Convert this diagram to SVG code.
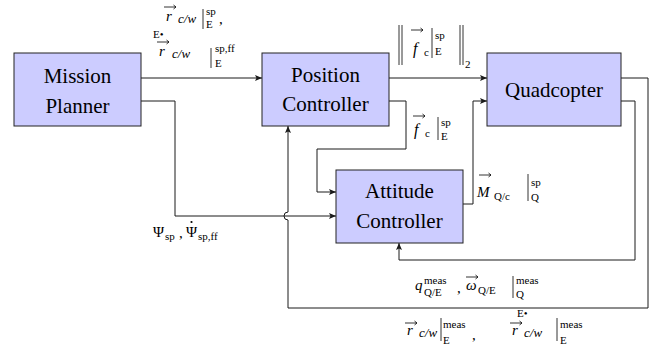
<svg xmlns="http://www.w3.org/2000/svg" width="659" height="356" viewBox="0 0 659 356">
<defs>
<marker id="ah" markerUnits="userSpaceOnUse" markerWidth="10" markerHeight="8" refX="7" refY="4" orient="auto">
<path d="M0,1 L7,4 L0,7 L1.5,4 z" fill="#1a1a1a"/>
</marker>
<path id="vec" d="M0,0 H12 M9.5,-2 L12,0 L9.5,2" fill="none" stroke="#000" stroke-width="0.8"/>
</defs>

<g id="connectors" fill="none" stroke="#1a1a1a" stroke-width="1">
<path d="M141,78 H262" marker-end="url(#ah)"/>
<path d="M389,78 H487" marker-end="url(#ah)"/>
<path d="M141,101 H175 V216 H336" marker-end="url(#ah)"/>
<path d="M389,101 H406 V149 H317 V192 H336" marker-end="url(#ah)"/>
<path d="M463,204 H473 V101 H487" marker-end="url(#ah)"/>
<path d="M621,101 H635 V260 H399 V243" marker-end="url(#ah)"/>
<path d="M621,78 H648 V308 H288 V220 A4,4 0 0 1 288,212 V126" marker-end="url(#ah)"/>
</g>

<g id="mission-planner">
<rect x="14" y="53" width="127" height="73" fill="#ccccff" stroke="#222"/>
<text font-family="Liberation Serif" font-size="21" text-anchor="middle" x="77.5" y="83">Mission</text>
<text font-family="Liberation Serif" font-size="21" text-anchor="middle" x="77.5" y="113">Planner</text>
</g>
<g id="position-controller">
<rect x="262" y="53" width="127" height="73" fill="#ccccff" stroke="#222"/>
<text font-family="Liberation Serif" font-size="21" text-anchor="middle" x="325.5" y="82">Position</text>
<text font-family="Liberation Serif" font-size="21" text-anchor="middle" x="325.5" y="111">Controller</text>
</g>
<g id="quadcopter">
<rect x="487" y="53" width="134" height="73" fill="#ccccff" stroke="#222"/>
<text font-family="Liberation Serif" font-size="21" text-anchor="middle" x="554" y="97">Quadcopter</text>
</g>
<g id="attitude-controller">
<rect x="336" y="170" width="127" height="73" fill="#ccccff" stroke="#222"/>
<text font-family="Liberation Serif" font-size="21" text-anchor="middle" x="399.5" y="198">Attitude</text>
<text font-family="Liberation Serif" font-size="21" text-anchor="middle" x="399.5" y="228">Controller</text>
</g>

<g id="labels">
<g fill="none" stroke="#000" stroke-width="0.8">
<path d="M203,9 V29 M211,48 V68 M399,25 V65 M402,25 V65 M460,25 V65 M463,25 V65 M432,28 V58 M438,117 V140 M528,174 V201 M513,276 V298 M441,318 V341 M557,318 V341"/>
</g>
<use href="#vec" x="164" y="7"/>
<use href="#vec" x="157" y="42"/>
<use href="#vec" x="411" y="30"/>
<use href="#vec" x="413" y="116"/>
<use href="#vec" x="479" y="175"/>
<use href="#vec" x="466" y="277"/>
<use href="#vec" x="405" y="323"/>
<use href="#vec" x="510" y="323"/>
<circle cx="191.5" cy="222" r="1.1" fill="#000"/>

<text font-family="Liberation Serif" font-style="italic" font-size="15" x="166" y="21">r</text>
<text font-family="Liberation Serif" font-style="italic" font-size="13" x="178" y="23">c/w</text>
<text font-family="Liberation Serif" font-size="11" x="206" y="15">sp</text>
<text font-family="Liberation Serif" font-size="11" x="206" y="28">E</text>
<text font-family="Liberation Serif" font-size="15" x="219" y="24">,</text>
<text font-family="Liberation Serif" font-size="11" x="153" y="38">E•</text>
<text font-family="Liberation Serif" font-style="italic" font-size="15" x="159" y="56">r</text>
<text font-family="Liberation Serif" font-style="italic" font-size="13" x="172" y="58">c/w</text>
<text font-family="Liberation Serif" font-size="11" x="215" y="52">sp,ff</text>
<text font-family="Liberation Serif" font-size="11" x="215" y="67">E</text>

<text font-family="Liberation Serif" font-style="italic" font-size="16" x="413" y="54">f</text>
<text font-family="Liberation Serif" font-size="11" x="424" y="56">c</text>
<text font-family="Liberation Serif" font-size="11" x="435" y="39">sp</text>
<text font-family="Liberation Serif" font-size="11" x="435" y="55">E</text>
<text font-family="Liberation Serif" font-size="11" x="465" y="68">2</text>

<text font-family="Liberation Serif" font-style="italic" font-size="16" x="414" y="135">f</text>
<text font-family="Liberation Serif" font-size="11" x="425" y="137">c</text>
<text font-family="Liberation Serif" font-size="11" x="441" y="126">sp</text>
<text font-family="Liberation Serif" font-size="11" x="441" y="140">E</text>

<text font-family="Liberation Serif" font-style="italic" font-size="15" x="477" y="197">M</text>
<text font-family="Liberation Serif" font-size="11" x="494" y="200">Q/c</text>
<text font-family="Liberation Serif" font-size="11" x="531" y="186">sp</text>
<text font-family="Liberation Serif" font-size="11" x="531" y="201">Q</text>

<text font-family="Liberation Serif" font-size="15" x="153" y="237">Ψ</text>
<text font-family="Liberation Serif" font-size="11" x="165" y="240">sp</text>
<text font-family="Liberation Serif" font-size="15" x="179" y="238">,</text>
<text font-family="Liberation Serif" font-size="15" x="186" y="237">Ψ</text>
<text font-family="Liberation Serif" font-size="11" x="198" y="240">sp,ff</text>

<text font-family="Liberation Serif" font-style="italic" font-size="15" x="415" y="290">q</text>
<text font-family="Liberation Serif" font-size="11" x="424" y="284">meas</text>
<text font-family="Liberation Serif" font-size="11" x="424" y="296">Q/E</text>
<text font-family="Liberation Serif" font-size="15" x="457" y="293">,</text>
<text font-family="Liberation Serif" font-style="italic" font-size="15" x="466" y="290">ω</text>
<text font-family="Liberation Serif" font-size="11" x="478" y="294">Q/E</text>
<text font-family="Liberation Serif" font-size="11" x="516" y="284">meas</text>
<text font-family="Liberation Serif" font-size="11" x="516" y="298">Q</text>

<text font-family="Liberation Serif" font-style="italic" font-size="15" x="407" y="335">r</text>
<text font-family="Liberation Serif" font-style="italic" font-size="13" x="419" y="337">c/w</text>
<text font-family="Liberation Serif" font-size="11" x="443" y="328">meas</text>
<text font-family="Liberation Serif" font-size="11" x="443" y="344">E</text>
<text font-family="Liberation Serif" font-size="15" x="472" y="340">,</text>
<text font-family="Liberation Serif" font-size="11" x="517" y="317">E•</text>
<text font-family="Liberation Serif" font-style="italic" font-size="15" x="512" y="335">r</text>
<text font-family="Liberation Serif" font-style="italic" font-size="13" x="524" y="337">c/w</text>
<text font-family="Liberation Serif" font-size="11" x="560" y="328">meas</text>
<text font-family="Liberation Serif" font-size="11" x="560" y="344">E</text>
</g>
</svg>
